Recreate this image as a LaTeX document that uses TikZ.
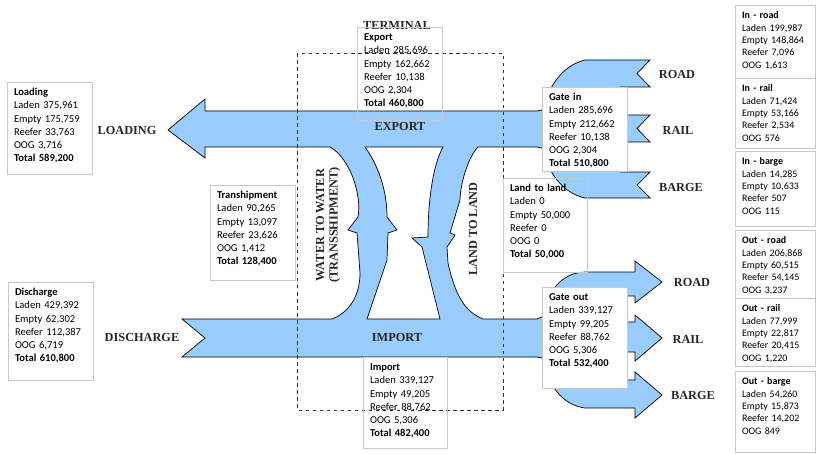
\documentclass[tikz,border=0pt]{standalone}
\usepackage{fontspec}
\setmainfont{Liberation Serif}
\newfontfamily\calfont{Carlito}
\usepackage{xcolor}
\usepackage{tikz}
\usetikzlibrary{positioning, calc}

\definecolor{flowblue}{RGB}{153,204,255}
\definecolor{boxgray}{RGB}{200,200,200}

\tikzset{
  flow/.style={draw=black, line width=0.6pt, fill=flowblue, even odd rule},
  lbl/.style={font=\fontsize{10.5}{11.5}\selectfont\bfseries, text=black!85},
  databox/.style={draw=boxgray, line width=0.6pt, anchor=north west, align=left,
    inner xsep=0.2cm, inner ysep=4.5pt, text height=7pt, text width=2.15cm,
    font=\calfont\fontsize{9}{11.2}\selectfont},
  modebox/.style={databox, text width=2cm, font=\calfont\fontsize{8.5}{10.5}\selectfont},
}

\begin{document}
\begin{tikzpicture}[x=0.03cm, y=-0.03cm]
\useasboundingbox (0,0) rectangle (818,454);

% Flow of boxes through the terminal
\draw[flow] (168,130) -- (205,99) -- (205,111) -- (537,111) -- (542,110)
  .. controls (548,90) and (560,66) .. (585,60)
  -- (650,60) -- (637,73.5) -- (650,87) -- (620,87) -- (620,115)
  -- (650,115) -- (637,128.5) -- (650,142) -- (620,142) -- (620,172)
  -- (650,172) -- (637,185) -- (650,198) -- (585,198)
  .. controls (562,193) and (548,172) .. (542,148)
  -- (537,147) -- (478,147)
  .. controls (468,157) and (460,185) .. (460,200)
  -- (450,233) -- (455,235) -- (447,247) -- (448,263)
  .. controls (455,295) and (465,312) .. (483,319)
  -- (537,319) -- (542,317)
  .. controls (548,292) and (560,273) .. (585,272)
  -- (635,272) -- (635,261) -- (662,282) -- (635,303) -- (635,296) -- (620,296)
  -- (620,322) -- (635,322) -- (635,315) -- (662,338) -- (635,361) -- (635,352)
  -- (620,352) -- (620,380) -- (635,380) -- (635,372) -- (662,395) -- (635,418)
  -- (635,408) -- (585,408)
  .. controls (562,405) and (548,385) .. (542,358)
  -- (537,357) -- (182,357) -- (205,338) -- (182,319) -- (332,319)
  .. controls (350,312) and (360,295) .. (360,273)
  -- (357,233) -- (348,230) -- (358,217)
  .. controls (362,195) and (350,158) .. (330,147)
  -- (205,147) -- (205,158) -- cycle
  % gap between the two bends
  (365,147) .. controls (378,165) and (387,190) .. (387,217)
  -- (397,230) -- (388,233) -- (387,260) -- (367,319) -- (440,319)
  -- (422,247) -- (412,238) -- (428,237)
  .. controls (428,200) and (433,165) .. (443,147) -- cycle;

% Terminal border
\draw[dashed, line width=0.6pt, black!80] (297,53) rectangle (503,410);

% Flow labels
\node[lbl] (terminal) at (397,25) {TERMINAL};
\node[lbl] (export) at (400,126) {EXPORT};
\node[lbl] (import) at (397,337) {IMPORT};
\node[lbl] (loading) at (127,130) {LOADING};
\node[lbl] (discharge) at (142,337) {DISCHARGE};
\node[lbl, rotate=90, align=center] (w2w) at (328,225) {WATER TO WATER\\(TRANSSHIPMENT)};
\node[lbl, rotate=90] (l2l) at (473,229) {LAND TO LAND};
\node[lbl] (inroad) at (677,74) {ROAD};
\node[lbl] (inrail) at (678,130) {RAIL};
\node[lbl] (inbarge) at (681,187) {BARGE};
\node[lbl] (outroad) at (692,282) {ROAD};
\node[lbl] (outrail) at (688,339) {RAIL};
\node[lbl] (outbarge) at (693,395) {BARGE};

% Totals per flow
\node[databox, text depth=2.198cm] (loadbox) at (7,82)
  {\textbf{Loading}\\Laden 375,961\\Empty 175,759\\Reefer 33,763\\OOG 3,716\\\textbf{Total 589,200}};
\node[databox, text depth=2.378cm] (dischbox) at (8,282)
  {\textbf{Discharge}\\Laden 429,392\\Empty 62,302\\Reefer 112,387\\OOG 6,719\\\textbf{Total 610,800}};
\node[databox, text depth=2.228cm] (exportbox) at (357,27)
  {\textbf{Export}\\Laden 285,696\\Empty 162,662\\Reefer 10,138\\OOG 2,304\\\textbf{Total 460,800}};
\node[databox, text depth=2.168cm, text width=2.12cm] (importbox) at (363,357)
  {\textbf{Import}\\Laden 339,127\\Empty 49,205\\Reefer 88,762\\OOG 5,306\\\textbf{Total 482,400}};
\node[databox, text depth=2.288cm] (tranbox) at (210,185)
  {\textbf{Transhipment}\\Laden 90,265\\Empty 13,097\\Reefer 23,626\\OOG 1,412\\\textbf{Total 128,400}};
\node[databox, text depth=2.258cm, text width=2.12cm] (landbox) at (503,178)
  {\textbf{Land to land}\\Laden 0\\Empty 50,000\\Reefer 0\\OOG 0\\\textbf{Total 50,000}};
\node[databox, fill=white, text depth=1.958cm] (gateinbox) at (542,87)
  {\textbf{Gate in}\\Laden 285,696\\Empty 212,662\\Reefer 10,138\\OOG 2,304\\\textbf{Total 510,800}};
\node[databox, fill=white, text depth=2.468cm] (gateoutbox) at (542,287)
  {\textbf{Gate out}\\Laden 339,127\\Empty 99,205\\Reefer 88,762\\OOG 5,306\\\textbf{Total 532,400}};

% Totals per mode
\node[modebox, text depth=1.628cm] (inroadbox) at (735,5)
  {\textbf{In - road}\\Laden 199,987\\Empty 148,864\\Reefer 7,096\\OOG 1,613};
\node[modebox, text depth=1.538cm] (inrailbox) at (735,78)
  {\textbf{In - rail}\\Laden 71,424\\Empty 53,166\\Reefer 2,534\\OOG 576};
\node[modebox, text depth=1.688cm] (inbargebox) at (735,151)
  {\textbf{In - barge}\\Laden 14,285\\Empty 10,633\\Reefer 507\\OOG 115};
\node[modebox, text depth=1.478cm] (outroadbox) at (735,230)
  {\textbf{Out - road}\\Laden 206,868\\Empty 60,515\\Reefer 54,145\\OOG 3,237};
\node[modebox, text depth=1.478cm] (outrailbox) at (735,298)
  {\textbf{Out - rail}\\Laden 77,999\\Empty 22,817\\Reefer 20,415\\OOG 1,220};
\node[modebox, text depth=1.868cm] (outbargebox) at (735,371)
  {\textbf{Out - barge}\\Laden 54,260\\Empty 15,873\\Reefer 14,202\\OOG 849};
\end{tikzpicture}
\end{document}
